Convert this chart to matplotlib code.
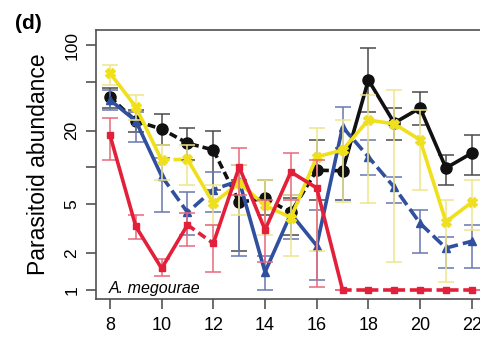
import numpy as np
import matplotlib.pyplot as plt

plt.rcParams['font.family'] = ['Liberation Sans', 'DejaVu Sans']

weeks = np.arange(8, 23)

# mean parasitoid abundance per week, with lower / upper error limits
black_mean = np.array([37.6, 24.0, 20.6, 15.8, 13.9, 5.2, 5.6, 4.3, 9.5, 9.4, 51.8, 23.1, 30.6, 9.9, 13.1])
black_lo = np.array([30.6, 19.5, 15.3, 11.5, 6.6, 2.1, 4.1, 2.8, 5.4, 5.4, 28.4, 16.8, 22.2, 7.2, 8.7])
black_hi = np.array([44.6, 29.5, 27.3, 21.0, 19.9, 7.9, 7.9, 5.6, 16.8, 14.4, 94.6, 30.6, 41.3, 12.6, 18.4])

blue_mean = np.array([35.6, 24.0, 8.5, 4.3, 6.6, 7.8, 1.4, 4.2, 2.3, 21.4, 12.2, 6.9, 3.5, 2.2, 2.5])
blue_lo = np.array([29.5, 16.2, 4.3, 2.8, 4.3, 1.9, 1.0, 2.6, 1.2, 5.4, 8.7, 5.1, 2.0, 1.5, 1.5])
blue_hi = np.array([42.9, 28.4, 11.9, 6.3, 9.2, 10.5, 1.9, 6.0, 4.5, 31.2, 16.8, 8.4, 4.5, 2.7, 3.4])

red_mean = np.array([18.4, 3.3, 1.5, 3.4, 2.4, 10.1, 3.1, 9.2, 6.8, 1, 1, 1, 1, 1, 1])
red_lo = np.array([11.5, 2.6, 1.3, 2.3, 1.4, 6.0, 1.7, 5.4, 1.06, 1, 1, 1, 1, 1, 1])
red_hi = np.array([25.4, 4.1, 1.8, 4.25, 3.4, 14.4, 5.4, 13.1, 11.5, 1, 1, 1, 1, 1, 1])

yellow_mean = np.array([59.1, 31.2, 11.5, 11.7, 5.1, 7.5, 4.9, 3.9, 12.2, 13.9, 24.4, 22.7, 16.8, 3.6, 5.2])
yellow_lo = np.array([47.1, 24.4, 7.9, 7.2, 3.4, 4.1, 2.8, 1.9, 2.1, 5.2, 5.1, 1.7, 6.6, 1.16, 3.1])
yellow_hi = np.array([68.7, 39.1, 15.3, 15.3, 7.2, 10.5, 7.9, 6.0, 21.0, 24.4, 39.1, 42.9, 29.5, 5.4, 7.9])

ytick_vals = [1, 2, 5, 10, 20, 50, 100]
ytick_text = ['1', '2', '5', '', '20', '', '100']
xtick_vals = [8, 10, 12, 14, 16, 18, 20, 22]

# which week-to-week segments are drawn dashed
black_dashed = [True] * 9 + [False] * 5
blue_dashed = [False, False, True, True, True, False, False, False, False] + [True] * 5
red_dashed = [False, False, False, True] + [False] * 5 + [True] * 5
yellow_dashed = [False, False, True] + [False] * 11

fig = plt.figure(figsize=(4.81, 3.38), dpi=100)
ax = fig.add_axes([96 / 481, 39 / 338, 390 / 481, 269 / 338])


def draw(mean, lo, hi, dashed, color, barcol, marker, ms, dash, z):
    ax.errorbar(weeks, mean, yerr=[mean - lo, hi - mean], fmt='none', ecolor=barcol,
                elinewidth=1.1, capsize=6, capthick=1.1, zorder=z - 0.5)
    # join runs of segments with the same style into one line
    start = 0
    for i in range(1, len(dashed) + 1):
        if i == len(dashed) or dashed[i] != dashed[start]:
            ls = (0, dash) if dashed[start] else '-'
            ax.plot(weeks[start:i + 1], mean[start:i + 1], color=color, lw=2.6, ls=ls,
                    solid_capstyle='butt', dash_capstyle='butt', zorder=z)
            start = i
    ax.plot(weeks, mean, ls='none', marker=marker, ms=ms, color=color,
            markeredgecolor=color, zorder=z + 0.1)


draw(black_mean, black_lo, black_hi, black_dashed, '#111111', '#4a4a4a', 'o', 8, (2.2, 1.1), 3)
draw(blue_mean, blue_lo, blue_hi, blue_dashed, '#30509f', '#6878b0', '^', 6, (3.5, 1.4), 4)
draw(yellow_mean, yellow_lo, yellow_hi, yellow_dashed, '#f0e01c', '#efe68a', 'X', 7, (2.2, 1.1), 5)
draw(red_mean, red_lo, red_hi, red_dashed, '#e2203a', '#e8687c', 's', 5, (2.4, 1.3), 6)

ax.set_yscale('log')
ax.set_xlim(7.46, 22.55)
ax.set_ylim(0.844, 132.6)
ax.set_yticks(ytick_vals)
ax.set_yticklabels(ytick_text, rotation=90, va='center', fontsize=12.5)
ax.yaxis.set_minor_locator(plt.NullLocator())
ax.set_xticks(xtick_vals)
ax.set_xticklabels([str(v) for v in xtick_vals], fontsize=13)
ax.tick_params(axis='both', length=7, width=1.1, color='#444444')
ax.tick_params(axis='x', pad=6)
ax.tick_params(axis='y', pad=5)
for s in ax.spines.values():
    s.set_color('#505050')
    s.set_linewidth(1.2)

ax.set_ylabel('Parasitoid abundance', fontsize=16.5, labelpad=10)
ax.text(0.033, 0.022, 'A. megourae', style='italic', fontsize=11.5,
        transform=ax.transAxes, va='baseline', ha='left')
fig.text(0.031, 0.929, '(d)', fontweight='bold', fontsize=15, va='center', ha='left')

fig.savefig('out.png', dpi=100)
